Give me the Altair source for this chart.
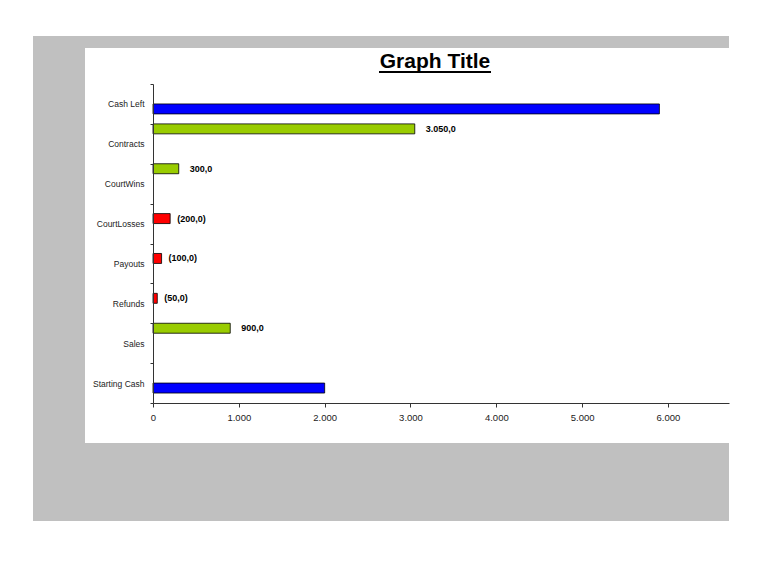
import altair as alt
import pandas as pd

# ---- data ----
categories = ["Cash Left", "Contracts", "CourtWins", "CourtLosses",
              "Payouts", "Refunds", "Sales", "Starting Cash"]
values = [5900, 3050, 300, -200, -100, -50, 900, 2000]
series = ["Total", "Increase", "Increase", "Decrease",
          "Decrease", "Decrease", "Increase", "Total"]
series_order = ["Increase", "Decrease", "Total", "Base"]
series_colors = ["#99CC00", "#FF0000", "#0000FF", "#FFFFFF"]
x_ticks = [0, 1000, 2000, 3000, 4000, 5000, 6000]
title_text = "Graph Title"

df = pd.DataFrame({"cat": categories, "v": values, "series": series})
df["len"] = df["v"].abs()

FONT = "Liberation Sans, Arial, sans-serif"

W, H = 576, 319

base = alt.Chart(df)

y_enc = alt.Y(
    "cat:N", sort=categories,
    scale=alt.Scale(paddingInner=0, paddingOuter=0),
    axis=alt.Axis(title=None, tickBand="extent", tickSize=3, labelPadding=6,
                  labelFontSize=8.5, labelFont=FONT, labelColor="#222",
                  domainColor="#333", tickColor="#333", zindex=1, labelLimit=200),
)
x_enc = alt.X(
    "len:Q",
    scale=alt.Scale(domain=[0, 6711], nice=False, zero=True),
    axis=alt.Axis(title=None, values=x_ticks, format=",.0f", grid=False,
                  tickSize=4, labelPadding=5, labelFontSize=9.5, labelFont=FONT,
                  labelFlush=False,
                  labelColor="#222", domainColor="#333", tickColor="#333", zindex=1),
)
yoff = alt.YOffset("series:N",
                   scale=alt.Scale(domain=series_order, paddingInner=0, paddingOuter=0))

bars = base.mark_bar(stroke="#000", strokeWidth=0.8).encode(
    x=x_enc, y=y_enc, yOffset=yoff,
    color=alt.Color("series:N", scale=alt.Scale(domain=series_order, range=series_colors),
                    legend=None),
)


def value_labels(series_name, dx):
    return base.transform_filter(f"datum.series == '{series_name}'").mark_text(
        align="left", baseline="middle", dx=dx, fontSize=9, fontWeight="bold",
        font=FONT, color="#000",
    ).encode(
        x=alt.X("len:Q"), y=alt.Y("cat:N", sort=categories), yOffset=yoff,
        text=alt.Text("v:Q", format="(,.1f"),
    )


labels_inc = value_labels("Increase", 11)
labels_dec = value_labels("Decrease", 7)

deco = alt.Chart(pd.DataFrame({"d": [0]}))
gray = deco.mark_rect(color="#C0C0C0").encode(
    x=alt.value(-120), x2=alt.value(W), y=alt.value(-48), y2=alt.value(437))
white = deco.mark_rect(color="#FFFFFF").encode(
    x=alt.value(-68), x2=alt.value(W), y=alt.value(-36), y2=alt.value(359))
title = deco.mark_text(text=title_text, fontSize=21, fontWeight="bold", font=FONT,
                       color="#000", align="center", baseline="alphabetic").encode(
    x=alt.value(282), y=alt.value(-16))
underline = deco.mark_rule(color="#000", strokeWidth=2).encode(
    x=alt.value(226), x2=alt.value(338), y=alt.value(-12))

chart = alt.layer(gray, white, bars, labels_inc, labels_dec, title, underline).properties(
    width=W, height=H,
    padding={"left": 145, "top": 76, "right": 31, "bottom": 149},
    autosize="none",
    background="white",
).configure(
    locale=alt.Locale(number=alt.NumberLocale(decimal=",", thousands=".",
                                              grouping=[3], currency=["", ""]))
).configure_view(stroke=None)

chart.save("out.html", embed_options={"renderer": "svg", "actions": False})
